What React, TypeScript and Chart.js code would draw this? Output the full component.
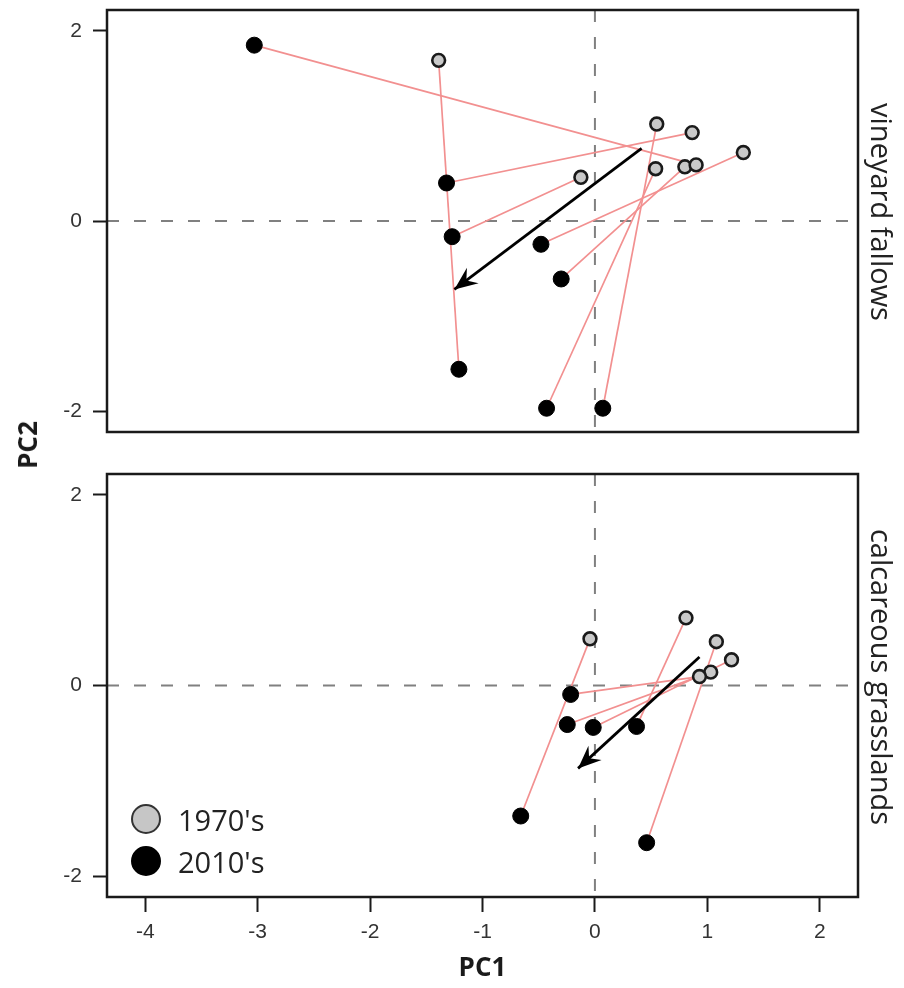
import React, { useEffect, useRef } from 'react';
import { Chart, registerables } from 'chart.js';

Chart.register(...registerables);

// ---- axes ----
const X_MIN = -4.34;
const X_MAX = 2.34;
const Y_MIN = -2.22;
const Y_MAX = 2.22;
const xTickValues = [-4, -3, -2, -1, 0, 1, 2];
const yTickValues = [-2, 0, 2];

// ---- panel labels ----
const panelLabels = ['vineyard fallows', 'calcareous grasslands'];
const legendLabels = ["1970's", "2010's"];
const xTitle = 'PC1';
const yTitle = 'PC2';

// ---- vineyard fallows: 1970's sites and their 2010's positions (paired by index) ----
const vfX1970 = [-1.39, 0.55, 0.865, 1.32, 0.54, 0.8, 0.9, -0.125];
const vfY1970 = [1.69, 1.02, 0.93, 0.72, 0.55, 0.57, 0.59, 0.46];
const vfX2010 = [-1.21, 0.07, -1.32, -0.48, -0.43, -0.3, -3.03, -1.27];
const vfY2010 = [-1.56, -1.97, 0.4, -0.245, -1.97, -0.61, 1.85, -0.165];
const vfArrowX = [0.415, -1.25];
const vfArrowY = [0.765, -0.72];

// ---- calcareous grasslands ----
const cgX1970 = [-0.044, 0.81, 1.08, 1.215, 1.03, 0.93];
const cgY1970 = [0.49, 0.71, 0.46, 0.27, 0.14, 0.094];
const cgX2010 = [-0.66, 0.37, 0.46, -0.015, -0.246, -0.216];
const cgY2010 = [-1.37, -0.43, -1.65, -0.44, -0.41, -0.094];
const cgArrowX = [0.93, -0.15];
const cgArrowY = [0.3, -0.87];

const PINK = '#f29090';
const TICK_COLOR = '#333333';

function buildDatasets(x70: number[], y70: number[], x10: number[], y10: number[], ax: number[], ay: number[]) {
  const links = x70.map((x, i) => ({
    type: 'line',
    data: [{ x, y: y70[i] }, { x: x10[i], y: y10[i] }],
    borderColor: PINK,
    borderWidth: 1.7,
    pointRadius: 0,
    showLine: true,
    fill: false,
    order: 5,
  }));
  return [
    {
      type: 'line',
      data: ax.map((x, i) => ({ x, y: ay[i] })),
      borderColor: '#000',
      borderWidth: 2.8,
      pointRadius: 0,
      showLine: true,
      fill: false,
      order: 0,
      isArrow: true,
    },
    {
      type: 'scatter',
      label: legendLabels[0],
      data: x70.map((x, i) => ({ x, y: y70[i] })),
      pointRadius: 6.4,
      backgroundColor: '#c9c9c9',
      borderColor: '#1a1a1a',
      borderWidth: 2.6,
      order: 1,
    },
    {
      type: 'scatter',
      label: legendLabels[1],
      data: x10.map((x, i) => ({ x, y: y10[i] })),
      pointRadius: 8,
      backgroundColor: '#000',
      borderColor: '#000',
      borderWidth: 1,
      order: 2,
    },
    ...links,
  ];
}

const panelPlugin = {
  id: 'panelDecor',
  beforeDatasetsDraw(chart: any) {
    const { ctx, chartArea, scales } = chart;
    const x0 = scales.x.getPixelForValue(0);
    const y0 = scales.y.getPixelForValue(0);
    ctx.save();
    ctx.strokeStyle = '#808080';
    ctx.lineWidth = 2;
    ctx.setLineDash([12, 15]);
    ctx.beginPath();
    ctx.moveTo(chartArea.left, y0);
    ctx.lineTo(chartArea.right, y0);
    ctx.moveTo(x0, chartArea.top);
    ctx.lineTo(x0, chartArea.bottom);
    ctx.stroke();
    ctx.restore();
  },
  afterDatasetsDraw(chart: any) {
    const { ctx } = chart;
    chart.data.datasets.forEach((ds: any, i: number) => {
      if (!ds.isArrow) return;
      const meta = chart.getDatasetMeta(i);
      const p0 = meta.data[0];
      const p1 = meta.data[1];
      const ang = Math.atan2(p1.y - p0.y, p1.x - p0.x);
      const len = 25;
      const spread = 0.4;
      const notch = 15;
      ctx.save();
      ctx.fillStyle = '#000';
      ctx.beginPath();
      ctx.moveTo(p1.x, p1.y);
      ctx.lineTo(p1.x - len * Math.cos(ang - spread), p1.y - len * Math.sin(ang - spread));
      ctx.lineTo(p1.x - notch * Math.cos(ang), p1.y - notch * Math.sin(ang));
      ctx.lineTo(p1.x - len * Math.cos(ang + spread), p1.y - len * Math.sin(ang + spread));
      ctx.closePath();
      ctx.fill();
      ctx.restore();
    });
  },
  afterDraw(chart: any) {
    const { ctx, chartArea } = chart;
    ctx.save();
    ctx.strokeStyle = '#1a1a1a';
    ctx.lineWidth = 2.5;
    ctx.strokeRect(chartArea.left, chartArea.top, chartArea.right - chartArea.left, chartArea.bottom - chartArea.top);
    ctx.restore();
  },
};

function tickFont() {
  return { family: 'Liberation Sans', size: 21, weight: 'normal' as const };
}

function yScale() {
  return {
    type: 'linear',
    min: Y_MIN,
    max: Y_MAX,
    afterFit: (s: any) => {
      s.width = 107;
      s.paddingTop = 0;
      s.paddingBottom = 0;
    },
    afterBuildTicks: (s: any) => {
      s.ticks = yTickValues.map((value) => ({ value }));
    },
    grid: { display: true, drawOnChartArea: false, drawTicks: true, tickLength: 14, tickColor: '#1a1a1a', tickWidth: 2 },
    border: { display: false },
    ticks: { font: tickFont(), color: TICK_COLOR, padding: 11 },
  };
}

function makeConfig(datasets: any[], bottom: boolean) {
  return {
    type: 'scatter',
    data: { datasets },
    plugins: [panelPlugin],
    options: {
      animation: false,
      responsive: false,
      devicePixelRatio: 1,
      events: [],
      layout: { padding: bottom ? { top: 24, right: 46, bottom: 0, left: 0 } : { top: 10, right: 46, bottom: 18, left: 0 } },
      plugins: { legend: { display: false }, tooltip: { enabled: false } },
      scales: {
        x: bottom
          ? {
              type: 'linear',
              min: X_MIN,
              max: X_MAX,
              afterFit: (s: any) => {
                s.height = 91;
                s.paddingLeft = 0;
                s.paddingRight = 0;
              },
              afterBuildTicks: (s: any) => {
                s.ticks = xTickValues.map((value) => ({ value }));
              },
              grid: { display: true, drawOnChartArea: false, drawTicks: true, tickLength: 15, tickColor: '#1a1a1a', tickWidth: 2 },
              border: { display: false },
              ticks: { font: tickFont(), color: TICK_COLOR, padding: 8, maxRotation: 0, autoSkip: false },
              title: {
                display: true,
                text: xTitle,
                font: { family: 'Open Sans', size: 26, weight: 'bold' },
                color: '#1a1a1a',
                padding: { top: 0, bottom: 4 },
              },
            }
          : { type: 'linear', min: X_MIN, max: X_MAX, display: false },
        y: yScale(),
      },
    },
  };
}

export default function App() {
  const topRef = useRef<HTMLCanvasElement>(null);
  const botRef = useRef<HTMLCanvasElement>(null);

  useEffect(() => {
    const c1 = new Chart(topRef.current as any, makeConfig(buildDatasets(vfX1970, vfY1970, vfX2010, vfY2010, vfArrowX, vfArrowY), false) as any);
    const c2 = new Chart(botRef.current as any, makeConfig(buildDatasets(cgX1970, cgY1970, cgX2010, cgY2010, cgArrowX, cgArrowY), true) as any);
    return () => {
      c1.destroy();
      c2.destroy();
    };
  }, []);

  const stripStyle: React.CSSProperties = {
    position: 'absolute',
    transform: 'translate(-50%, -50%) rotate(90deg)',
    whiteSpace: 'nowrap',
    font: '29px "Open Sans", sans-serif',
    color: '#222',
    lineHeight: 1,
  };
  const legendText: React.CSSProperties = {
    position: 'absolute',
    left: 178,
    transform: 'translateY(-50%)',
    font: '29px "Open Sans", sans-serif',
    color: '#222',
    lineHeight: 1,
    whiteSpace: 'nowrap',
  };
  const circle = (fill: string, border: string, cy: number): React.CSSProperties => ({
    position: 'absolute',
    left: 146 - 15,
    top: cy - 15,
    width: 30,
    height: 30,
    borderRadius: '50%',
    background: fill,
    border: `2.5px solid ${border}`,
    boxSizing: 'border-box',
  });

  return (
    <div style={{ position: 'absolute', left: 0, top: 0, width: 904, height: 988, background: '#fff', overflow: 'hidden' }}>
      <canvas ref={topRef} width={904} height={450} style={{ position: 'absolute', left: 0, top: 0, display: 'block' }} />
      <canvas ref={botRef} width={904} height={538} style={{ position: 'absolute', left: 0, top: 450, display: 'block' }} />
      <div style={{ ...stripStyle, left: 882, top: 212 }}>{panelLabels[0]}</div>
      <div style={{ ...stripStyle, left: 882, top: 677 }}>{panelLabels[1]}</div>
      <div
        style={{
          position: 'absolute',
          left: 27,
          top: 445,
          transform: 'translate(-50%, -50%) rotate(-90deg)',
          font: 'bold 26px "Open Sans", sans-serif',
          color: '#1a1a1a',
          lineHeight: 1,
          whiteSpace: 'nowrap',
        }}
      >
        {yTitle}
      </div>
      <div style={circle('#c6c6c6', '#333', 819)} />
      <div style={{ ...legendText, top: 819 }}>{legendLabels[0]}</div>
      <div style={circle('#000', '#000', 861)} />
      <div style={{ ...legendText, top: 861 }}>{legendLabels[1]}</div>
    </div>
  );
}
